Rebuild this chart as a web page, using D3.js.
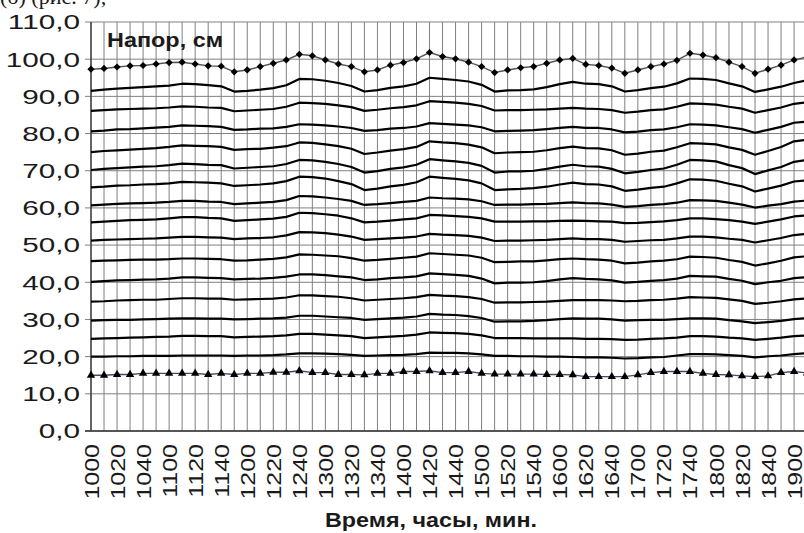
<!DOCTYPE html>
<head>
  <meta charset="utf-8">
  <title>Напор, см</title>
  <script src="https://cdn.jsdelivr.net/npm/d3@7"></script>
  <style>
    body { margin: 0; background: #fff; }
    text { font-family: "Liberation Sans", Arial, sans-serif; fill: #1a1a1a; }
  </style>
</head>
<body>
  <div id="chart"></div>

  <script>
    // categories: time, hhmm, every 10 min (1910 falls just past the right edge)
    var times = ["1000","1010","1020","1030","1040","1050","1100","1110","1120","1130","1140","1150",
                 "1200","1210","1220","1230","1240","1250","1300","1310","1320","1330","1340","1350",
                 "1400","1410","1420","1430","1440","1450","1500","1510","1520","1530","1540","1550",
                 "1600","1610","1620","1630","1640","1650","1700","1710","1720","1730","1740","1750",
                 "1800","1810","1820","1830","1840","1850","1900","1910"];

    var yTicks = [0, 10, 20, 30, 40, 50, 60, 70, 80, 90, 100, 110];

    // top series (diamonds)
    var topSeries = [97.3, 97.5, 97.9, 98.2, 98.3, 98.7, 99.1, 99.2, 98.7, 98.2, 98.1, 96.6,
                     97.1, 98.0, 98.9, 99.8, 101.3, 100.9, 99.8, 98.7, 98.0, 96.6, 97.1, 98.4,
                     99.1, 100.1, 101.8, 100.7, 100.1, 99.2, 98.0, 96.4, 97.1, 97.7, 98.0, 98.9,
                     99.8, 100.2, 98.6, 98.3, 97.6, 96.2, 97.1, 98.0, 98.7, 99.7, 101.6, 101.1,
                     100.4, 99.2, 98.0, 96.2, 97.3, 98.4, 99.8, 100.6];

    // piezometer lines
    var line01 = [91.5, 91.8, 92.1, 92.3, 92.5, 92.7, 92.9, 93.4, 93.3, 93.0, 92.7, 91.3, 91.5, 91.8, 92.2, 93.0, 94.7, 94.6, 94.2, 93.6, 92.8, 91.3, 91.7, 92.3, 92.7, 93.4, 95.0, 94.7, 94.4, 94.0, 93.1, 91.3, 91.6, 91.7, 91.9, 92.5, 93.3, 93.9, 93.4, 93.3, 92.7, 91.3, 91.7, 92.2, 92.6, 93.5, 94.8, 94.7, 94.4, 93.5, 92.7, 91.2, 91.9, 92.6, 93.6, 94.3];
    var line02 = [86.1, 86.3, 86.5, 86.6, 86.7, 86.8, 87.0, 87.3, 87.2, 87.0, 86.9, 86.0, 86.2, 86.4, 86.6, 87.2, 88.3, 88.2, 88.0, 87.6, 87.1, 86.1, 86.4, 86.8, 87.1, 87.6, 88.7, 88.5, 88.3, 88.0, 87.4, 86.2, 86.3, 86.3, 86.4, 86.5, 86.7, 86.9, 86.7, 86.6, 86.3, 85.6, 85.9, 86.3, 86.5, 87.2, 88.1, 88.0, 87.8, 87.2, 86.7, 85.6, 86.3, 87.0, 88.0, 88.4];
    var line03 = [80.6, 80.8, 81.1, 81.2, 81.4, 81.6, 81.8, 82.2, 82.1, 82.0, 81.8, 81.0, 81.1, 81.3, 81.4, 81.8, 82.5, 82.4, 82.2, 81.9, 81.5, 80.7, 80.9, 81.3, 81.5, 81.9, 82.8, 82.6, 82.4, 82.2, 81.7, 80.6, 80.7, 80.8, 80.9, 81.2, 81.5, 81.8, 81.5, 81.5, 81.1, 80.3, 80.5, 80.9, 81.1, 81.7, 82.5, 82.4, 82.2, 81.7, 81.2, 80.2, 81.0, 81.8, 82.9, 83.2];
    var line04 = [75.0, 75.3, 75.5, 75.7, 75.9, 76.1, 76.4, 76.8, 76.7, 76.6, 76.4, 75.6, 75.8, 75.9, 76.2, 76.6, 77.6, 77.5, 77.1, 76.6, 75.9, 74.5, 74.9, 75.4, 75.8, 76.4, 77.9, 77.6, 77.4, 77.0, 76.3, 74.7, 74.9, 75.0, 75.1, 75.5, 76.1, 76.5, 76.1, 76.0, 75.5, 74.3, 74.6, 75.1, 75.4, 76.3, 77.4, 77.3, 77.1, 76.3, 75.6, 74.3, 75.3, 76.4, 77.9, 78.3];
    var line05 = [70.2, 70.5, 70.7, 70.9, 71.1, 71.2, 71.5, 71.9, 71.8, 71.6, 71.5, 70.6, 70.8, 71.0, 71.2, 71.8, 72.9, 72.8, 72.4, 71.8, 71.0, 69.5, 69.9, 70.5, 70.9, 71.6, 73.1, 72.8, 72.5, 72.1, 71.3, 69.5, 69.8, 69.8, 70.0, 70.5, 71.1, 71.6, 71.2, 71.1, 70.5, 69.3, 69.7, 70.2, 70.6, 71.6, 72.9, 72.8, 72.5, 71.5, 70.7, 69.1, 70.1, 71.0, 72.4, 72.9];
    var line06 = [65.5, 65.7, 66.0, 66.1, 66.3, 66.4, 66.6, 67.0, 66.9, 66.8, 66.6, 65.9, 66.1, 66.3, 66.6, 67.2, 68.4, 68.3, 67.9, 67.2, 66.4, 64.8, 65.2, 65.8, 66.2, 66.9, 68.4, 68.1, 67.8, 67.4, 66.6, 64.8, 65.0, 65.1, 65.3, 65.7, 66.3, 66.8, 66.4, 66.3, 65.8, 64.6, 64.9, 65.4, 65.7, 66.6, 67.7, 67.6, 67.3, 66.5, 65.8, 64.4, 65.2, 66.0, 67.1, 67.4];
    var line07 = [60.7, 60.9, 61.1, 61.2, 61.3, 61.4, 61.6, 61.9, 61.9, 61.7, 61.6, 61.0, 61.2, 61.4, 61.6, 62.1, 63.2, 63.1, 62.8, 62.4, 61.9, 60.8, 61.0, 61.3, 61.6, 61.9, 62.8, 62.6, 62.5, 62.3, 61.8, 60.8, 60.9, 60.9, 61.0, 61.1, 61.3, 61.5, 61.3, 61.2, 60.9, 60.3, 60.5, 60.8, 61.0, 61.4, 62.1, 62.0, 61.9, 61.4, 60.9, 60.1, 60.6, 61.0, 61.7, 62.0];
    var line08 = [56.1, 56.3, 56.5, 56.7, 56.8, 56.9, 57.2, 57.5, 57.5, 57.3, 57.2, 56.5, 56.7, 56.9, 57.1, 57.6, 58.7, 58.6, 58.3, 57.9, 57.2, 56.1, 56.3, 56.6, 56.9, 57.2, 58.1, 58.0, 57.8, 57.6, 57.2, 56.3, 56.3, 56.3, 56.4, 56.4, 56.5, 56.6, 56.5, 56.4, 56.3, 55.9, 56.0, 56.2, 56.4, 56.7, 57.2, 57.2, 57.0, 56.7, 56.3, 55.7, 56.3, 56.9, 57.7, 58.0];
    var line09 = [51.2, 51.4, 51.5, 51.6, 51.7, 51.8, 52.0, 52.2, 52.2, 52.1, 52.0, 51.6, 51.8, 51.9, 52.1, 52.6, 53.5, 53.4, 53.2, 52.8, 52.3, 51.4, 51.6, 51.8, 52.0, 52.3, 53.0, 52.8, 52.7, 52.5, 52.0, 51.1, 51.2, 51.2, 51.3, 51.4, 51.6, 51.8, 51.6, 51.6, 51.4, 50.9, 51.1, 51.3, 51.4, 51.8, 52.3, 52.3, 52.1, 51.7, 51.4, 50.7, 51.3, 51.9, 52.7, 53.0];
    var line10 = [45.7, 45.8, 45.9, 46.0, 46.1, 46.1, 46.2, 46.4, 46.4, 46.3, 46.2, 45.8, 45.9, 46.1, 46.3, 46.7, 47.5, 47.4, 47.2, 47.0, 46.5, 45.8, 46.0, 46.3, 46.6, 46.9, 47.8, 47.6, 47.4, 47.2, 46.6, 45.4, 45.5, 45.6, 45.6, 45.9, 46.2, 46.4, 46.2, 46.1, 45.8, 45.1, 45.3, 45.6, 45.8, 46.2, 46.9, 46.8, 46.6, 46.0, 45.5, 44.5, 45.1, 45.8, 46.7, 47.0];
    var line11 = [40.1, 40.3, 40.5, 40.6, 40.7, 40.8, 41.0, 41.3, 41.3, 41.2, 41.1, 40.8, 40.9, 41.0, 41.2, 41.5, 42.1, 42.1, 41.9, 41.6, 41.3, 40.6, 40.8, 41.1, 41.3, 41.6, 42.4, 42.2, 42.0, 41.7, 41.0, 39.7, 39.9, 39.9, 40.0, 40.3, 40.8, 41.1, 40.9, 40.8, 40.5, 39.9, 40.1, 40.4, 40.6, 41.0, 41.7, 41.6, 41.5, 40.9, 40.4, 39.5, 40.0, 40.4, 41.1, 41.4];
    var line12 = [34.8, 34.9, 35.1, 35.2, 35.3, 35.3, 35.5, 35.7, 35.7, 35.6, 35.6, 35.3, 35.4, 35.5, 35.6, 35.9, 36.5, 36.5, 36.3, 36.1, 35.7, 35.1, 35.3, 35.5, 35.7, 36.0, 36.6, 36.4, 36.3, 36.0, 35.5, 34.5, 34.6, 34.6, 34.7, 34.8, 35.0, 35.2, 35.2, 35.2, 35.1, 34.9, 35.0, 35.2, 35.3, 35.6, 36.0, 35.9, 35.8, 35.4, 35.0, 34.2, 34.5, 34.9, 35.4, 35.7];
    var line13 = [29.7, 29.8, 29.9, 29.9, 30.0, 30.1, 30.2, 30.3, 30.3, 30.2, 30.2, 30.0, 30.1, 30.2, 30.3, 30.5, 31.0, 31.0, 30.8, 30.6, 30.4, 29.9, 30.1, 30.3, 30.5, 30.8, 31.5, 31.3, 31.2, 30.9, 30.4, 29.4, 29.5, 29.5, 29.6, 29.8, 30.1, 30.3, 30.2, 30.2, 30.0, 29.7, 29.8, 29.9, 29.9, 30.1, 30.3, 30.3, 30.2, 29.8, 29.5, 29.0, 29.3, 29.6, 30.1, 30.4];
    var line14 = [24.8, 24.9, 25.0, 25.1, 25.2, 25.3, 25.4, 25.6, 25.6, 25.5, 25.5, 25.2, 25.3, 25.4, 25.5, 25.7, 26.1, 26.1, 25.9, 25.7, 25.5, 25.0, 25.2, 25.4, 25.6, 25.9, 26.5, 26.4, 26.3, 26.1, 25.7, 25.0, 25.0, 25.0, 24.9, 24.9, 24.9, 24.9, 24.8, 24.8, 24.7, 24.5, 24.6, 24.8, 24.9, 25.1, 25.5, 25.5, 25.4, 25.1, 24.9, 24.5, 24.8, 25.1, 25.5, 25.7];
    var line15 = [20.0, 20.0, 20.1, 20.1, 20.2, 20.2, 20.2, 20.3, 20.3, 20.3, 20.3, 20.2, 20.3, 20.3, 20.4, 20.6, 20.9, 20.9, 20.8, 20.7, 20.5, 20.2, 20.3, 20.4, 20.5, 20.7, 21.1, 21.0, 21.0, 20.9, 20.6, 20.2, 20.2, 20.1, 20.1, 20.0, 20.0, 19.9, 19.8, 19.8, 19.7, 19.5, 19.6, 19.8, 19.9, 20.3, 20.7, 20.7, 20.6, 20.4, 20.2, 19.8, 20.1, 20.3, 20.7, 20.9];

    // bottom series (triangles)
    var bottomSeries = [15.0, 15.0, 15.2, 15.2, 15.5, 15.5, 15.5, 15.5, 15.5, 15.2, 15.5, 15.2,
                        15.5, 15.5, 15.8, 15.8, 16.2, 15.7, 15.7, 15.2, 15.2, 15.1, 15.5, 15.5,
                        16.0, 16.0, 16.2, 15.7, 15.7, 16.0, 15.5, 15.3, 15.3, 15.3, 15.3, 15.2,
                        15.2, 15.1, 14.6, 14.6, 14.6, 14.6, 15.1, 15.7, 16.0, 16.0, 16.0, 15.5,
                        15.2, 15.1, 14.8, 14.6, 14.8, 15.7, 16.0, 15.6];

    var lines = [line01, line02, line03, line04, line05, line06, line07, line08,
                 line09, line10, line11, line12, line13, line14, line15];

    var width = 804, height = 533;
    var plotLeft = 91, plotTop = 22, plotBottom = 431, step = 13.02;

    var svg = d3.select("#chart")
      .append("svg")
      .attr("width", width)
      .attr("height", height);

    var x = d3.scalePoint()
      .domain(times)
      .range([plotLeft, plotLeft + step * (times.length - 1)]);

    var y = d3.scaleLinear()
      .domain([0, 110])
      .range([plotBottom, plotTop]);

    // caption line cut off at the top of the picture
    svg.append("text")
      .attr("x", 0)
      .attr("y", 4)
      .style("font-family", "'Liberation Serif', 'Times New Roman', serif")
      .style("font-size", "22px")
      .text("(б) (рис. 7);");

    // vertical grid, one per category
    svg.append("g")
      .selectAll("line")
      .data(times)
      .enter()
      .append("line")
      .attr("x1", function(d) { return x(d); })
      .attr("x2", function(d) { return x(d); })
      .attr("y1", plotTop)
      .attr("y2", plotBottom)
      .attr("stroke", "#808080")
      .attr("stroke-width", 1);

    // horizontal grid + ticks
    svg.append("g")
      .selectAll("line")
      .data(yTicks)
      .enter()
      .append("line")
      .attr("x1", plotLeft - 6)
      .attr("x2", width)
      .attr("y1", function(d) { return y(d); })
      .attr("y2", function(d) { return y(d); })
      .attr("stroke", "#808080")
      .attr("stroke-width", 1);

    // axes
    svg.append("line")
      .attr("x1", plotLeft).attr("x2", plotLeft)
      .attr("y1", plotTop).attr("y2", plotBottom)
      .attr("stroke", "#333").attr("stroke-width", 1.3);
    svg.append("line")
      .attr("x1", plotLeft - 6).attr("x2", width)
      .attr("y1", plotBottom).attr("y2", plotBottom)
      .attr("stroke", "#333").attr("stroke-width", 1.3);

    // y labels
    svg.append("g")
      .selectAll("text")
      .data(yTicks)
      .enter()
      .append("text")
      .attr("transform", function(d) { return "translate(80," + y(d) + ") scale(1.45,1)"; })
      .attr("dy", "0.36em")
      .attr("text-anchor", "end")
      .style("font-size", "20.5px")
      .text(function(d) { return d3.format(".1f")(d).replace(".", ","); });

    // x labels, every second category
    svg.append("g")
      .selectAll("text")
      .data(times.filter(function(d, i) { return i % 2 == 0 && i < times.length - 1; }))
      .enter()
      .append("text")
      .attr("transform", function(d) { return "translate(" + x(d) + ",444) rotate(-90) scale(1.19,1)"; })
      .attr("dy", "0.36em")
      .attr("text-anchor", "end")
      .style("font-size", "21px")
      .text(function(d) { return d; });

    var line = d3.line()
      .x(function(d, i) { return x(times[i]); })
      .y(function(d) { return y(d); });

    // piezometer lines
    svg.append("g")
      .selectAll("path")
      .data(lines)
      .enter()
      .append("path")
      .attr("fill", "none")
      .attr("stroke", "#000")
      .attr("stroke-width", 2.2)
      .attr("stroke-linejoin", "round")
      .attr("d", line);

    // top series with diamonds
    svg.append("path")
      .datum(topSeries)
      .attr("fill", "none")
      .attr("stroke", "#555")
      .attr("stroke-width", 1.5)
      .attr("d", line);

    svg.append("g")
      .selectAll("path")
      .data(topSeries)
      .enter()
      .append("path")
      .attr("transform", function(d, i) { return "translate(" + x(times[i]) + "," + y(d) + ") rotate(45)"; })
      .attr("d", d3.symbol().type(d3.symbolSquare).size(26))
      .attr("fill", "#000");

    // bottom series with triangles
    svg.append("path")
      .datum(bottomSeries)
      .attr("fill", "none")
      .attr("stroke", "#4a4a66")
      .attr("stroke-width", 1.3)
      .attr("d", line);

    svg.append("g")
      .selectAll("path")
      .data(bottomSeries)
      .enter()
      .append("path")
      .attr("transform", function(d, i) { return "translate(" + x(times[i]) + "," + y(d) + ")"; })
      .attr("d", d3.symbol().type(d3.symbolTriangle).size(30))
      .attr("fill", "#000");

    // titles
    svg.append("text")
      .attr("x", 107)
      .attr("y", 46.5)
      .attr("textLength", 116)
      .attr("lengthAdjust", "spacingAndGlyphs")
      .style("font-size", "20px")
      .style("font-weight", "bold")
      .text("Напор, см");

    svg.append("text")
      .attr("x", 325)
      .attr("y", 527)
      .attr("textLength", 212)
      .attr("lengthAdjust", "spacingAndGlyphs")
      .style("font-size", "20.5px")
      .style("font-weight", "bold")
      .text("Время, часы, мин.");
  </script>
</body>
</html>
